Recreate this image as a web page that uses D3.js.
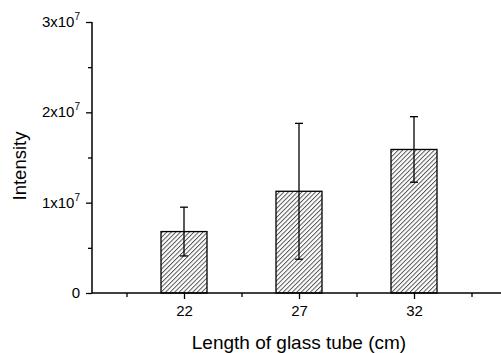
<!DOCTYPE html>
<html>
<head>
<meta charset="utf-8">
<script src="https://cdn.jsdelivr.net/npm/d3@7"></script>
<style>
  body { margin: 0; background: #fff; }
  text { font-family: "Liberation Sans", Arial, sans-serif; fill: #000; }
</style>
</head>
<body>
<div id="chart"></div>
<script>
// tube lengths (cm) and measured intensity
const lengths = [22, 27, 32]
const means = [0.68e7, 1.126e7, 1.589e7]
const errors = [0.27e7, 0.752e7, 0.363e7]
const yMajor = [0, 1, 2, 3]
const yMinor = [0.5, 1.5, 2.5]
const xMinor = [19.5, 24.5, 29.5, 34.5]

const W = 501, H = 353
const svg = d3.select('#chart').append('svg').attr('width', W).attr('height', H)

const x = d3.scaleLinear().domain([18, 36]).range([92, 506])
const y = d3.scaleLinear().domain([0, 3e7]).range([293, 22])
const barW = 2

// hatch pattern
const pat = svg.append('defs').append('pattern')
    .attr('id', 'hatch')
    .attr('patternUnits', 'userSpaceOnUse')
    .attr('width', 3.2).attr('height', 3.2)
    .attr('patternTransform', 'rotate(45)')
pat.append('rect').attr('width', 3.2).attr('height', 3.2).attr('fill', '#fff')
pat.append('line')
    .attr('x1', 0.5).attr('y1', 0).attr('x2', 0.5).attr('y2', 3.2)
    .attr('stroke', '#444').attr('stroke-width', 0.9)

// bars
svg.selectAll('rect.bar')
    .data(lengths)
    .enter()
    .append('rect')
    .attr('class', 'bar')
    .attr('x', (d) => x(d - barW / 2))
    .attr('width', x(barW) - x(0))
    .attr('y', (d, i) => y(means[i]))
    .attr('height', (d, i) => y(0) - y(means[i]))
    .attr('fill', 'url(#hatch)')
    .attr('stroke', '#000')
    .attr('stroke-width', 1.3)

// error bars
const eb = svg.selectAll('g.err').data(lengths).enter().append('g').attr('class', 'err')
eb.append('line')
    .attr('x1', (d) => x(d)).attr('x2', (d) => x(d))
    .attr('y1', (d, i) => y(means[i] - errors[i]))
    .attr('y2', (d, i) => y(means[i] + errors[i]))
    .attr('stroke', '#000').attr('stroke-width', 1.3)
eb.append('line')
    .attr('x1', (d) => x(d) - 4).attr('x2', (d) => x(d) + 4)
    .attr('y1', (d, i) => y(means[i] + errors[i]))
    .attr('y2', (d, i) => y(means[i] + errors[i]))
    .attr('stroke', '#000').attr('stroke-width', 1.3)
eb.append('line')
    .attr('x1', (d) => x(d) - 4).attr('x2', (d) => x(d) + 4)
    .attr('y1', (d, i) => y(means[i] - errors[i]))
    .attr('y2', (d, i) => y(means[i] - errors[i]))
    .attr('stroke', '#000').attr('stroke-width', 1.3)

// y axis
const yAxis = svg.append('g').attr('transform', `translate(${x(18)},0)`)
    .call(d3.axisLeft(y).tickValues(yMajor.map((v) => v * 1e7)).tickSize(6).tickFormat(''))
yAxis.select('.domain').attr('stroke-width', 1.5).attr('d', `M0,${y(3e7)}V${y(0)}`)
yAxis.selectAll('.tick line').attr('stroke-width', 1.3)
svg.append('g').attr('transform', `translate(${x(18)},0)`)
    .call(d3.axisLeft(y).tickValues(yMinor.map((v) => v * 1e7)).tickSize(4).tickFormat(''))
    .call((g) => g.select('.domain').remove())
    .selectAll('.tick line').attr('stroke-width', 1.3)

// y tick labels with superscript
const yl = svg.selectAll('text.ylab').data(yMajor).enter().append('text')
    .attr('class', 'ylab')
    .attr('x', 80)
    .attr('y', (d) => y(d * 1e7) + 5)
    .attr('text-anchor', 'end')
    .style('font-size', '15px')
yl.each(function(d) {
  const t = d3.select(this)
  if (d === 0) { t.text('0'); return }
  t.append('tspan').text(d + 'x10')
  t.append('tspan').attr('dy', -7).style('font-size', '10px').text('7')
})

// x axis
const xAxis = svg.append('g').attr('transform', `translate(0,${y(0)})`)
    .call(d3.axisBottom(x).tickValues(lengths).tickSize(6).tickPadding(6).tickFormat(d3.format('d')))
xAxis.select('.domain').attr('stroke-width', 1.5).attr('d', `M${x(18)},0H${x(36)}`)
xAxis.selectAll('.tick line').attr('stroke-width', 1.3)
xAxis.selectAll('.tick text')
    .style('font-size', '15px')
    .style('font-family', '"Liberation Sans", Arial, sans-serif')
svg.append('g').attr('transform', `translate(0,${y(0)})`)
    .call(d3.axisBottom(x).tickValues(xMinor).tickSize(4).tickFormat(''))
    .call((g) => g.select('.domain').remove())
    .selectAll('.tick line').attr('stroke-width', 1.3)

// axis titles
svg.append('text')
    .attr('x', 299).attr('y', 349)
    .attr('text-anchor', 'middle')
    .style('font-size', '19px')
    .text('Length of glass tube (cm)')
svg.append('text')
    .attr('transform', 'translate(26,166) rotate(-90)')
    .attr('text-anchor', 'middle')
    .style('font-size', '18.5px')
    .text('Intensity')
</script>
</body>
</html>
